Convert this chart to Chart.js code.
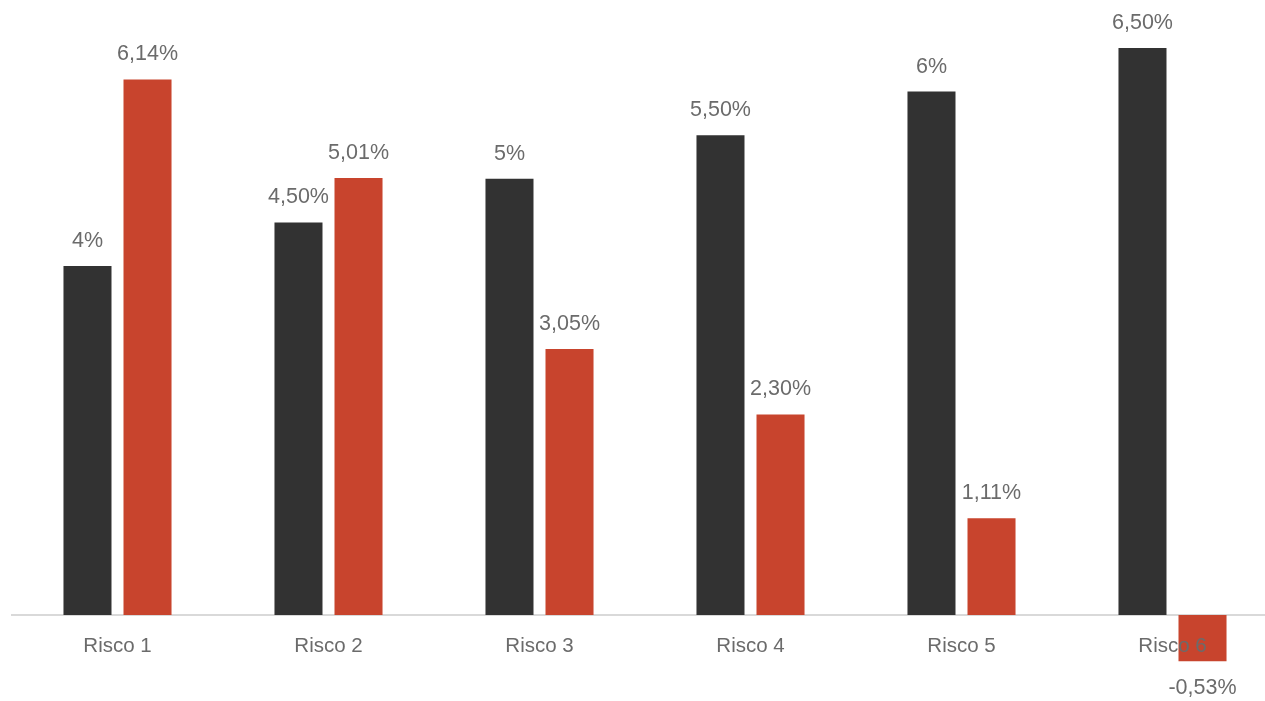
<!DOCTYPE html>
<html lang="pt">
<head>
  <meta charset="UTF-8" />
  <title>Risco</title>
  <script src="https://cdn.jsdelivr.net/npm/chart.js@4/dist/chart.umd.min.js"></script>
  <style>
    html, body {
      margin: 0;
      padding: 0;
      background: #fff;
      overflow: hidden;
    }

    .chart-box {
      width: 1278px;
      height: 701px;
    }
  </style>
</head>
<body>
  <div class="chart-box">
    <canvas id="risco-chart"></canvas>
  </div>

  <script>
    // dados (em %)
    var categorias = ["Risco 1", "Risco 2", "Risco 3", "Risco 4", "Risco 5", "Risco 6"];
    var serieEscura = [4, 4.5, 5, 5.5, 6, 6.5];
    var serieVermelha = [6.14, 5.01, 3.05, 2.30, 1.11, -0.53];

    var corTexto = "#6b6b6b";
    var fonte = "'Liberation Sans', Arial, sans-serif";

    function formatarPct(v) {
      if (Number.isInteger(v)) return v + "%";
      return v.toFixed(2).replace(".", ",") + "%";
    }

    // rótulos de dados acima / abaixo de cada barra
    var rotulosPlugin = {
      id: "rotulos",
      afterDatasetsDraw: function (chart) {
        var ctx = chart.ctx;
        ctx.save();
        ctx.font = "21.5px " + fonte;
        ctx.fillStyle = corTexto;
        ctx.textAlign = "center";
        ctx.textBaseline = "middle";
        chart.data.datasets.forEach(function (ds, i) {
          var meta = chart.getDatasetMeta(i);
          meta.data.forEach(function (bar, j) {
            var v = ds.data[j];
            var y = v >= 0 ? bar.y - 25 : bar.y + 27;
            ctx.fillText(formatarPct(v), bar.x, y);
          });
        });
        ctx.restore();
      }
    };

    var ctx = document.getElementById("risco-chart").getContext("2d");
    new Chart(ctx, {
      type: "bar",
      data: {
        labels: categorias,
        datasets: [{
          label: "Série 1",
          data: serieEscura,
          backgroundColor: "#323232",
          categoryPercentage: 0.569,
          barPercentage: 0.8
        }, {
          label: "Série 2",
          data: serieVermelha,
          backgroundColor: "#C8442D",
          categoryPercentage: 0.569,
          barPercentage: 0.8
        }]
      },
      options: {
        responsive: true,
        maintainAspectRatio: false,
        animation: false,
        layout: { padding: { left: 12, right: 0, top: 0, bottom: 0 } },
        plugins: {
          legend: { display: false },
          tooltip: { enabled: false }
        },
        scales: {
          x: {
            position: { y: 0 },
            grid: { display: false, drawTicks: false },
            border: { display: true, color: "#d9d9d9", width: 2 },
            ticks: {
              z: 1, // texto por cima da barra negativa
              color: corTexto,
              font: { size: 20.5, family: fonte },
              padding: 19
            },
            afterFit: function (s) { s.height = 0; }
          },
          y: {
            display: false,
            min: -0.985,
            max: 7.05
          }
        }
      },
      plugins: [rotulosPlugin]
    });
  </script>
</body>
</html>
